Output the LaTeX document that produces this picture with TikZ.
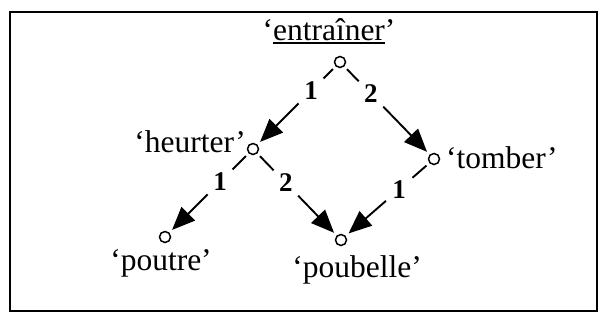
\documentclass[tikz,border=0pt]{standalone}
\usepackage{fontspec}
\setmainfont{Liberation Serif}
\usetikzlibrary{arrows.meta}
\newcommand\myuline[1]{\setbox0\hbox{#1}\rlap{\rule[-3.5pt]{\wd0}{1.5pt}}\box0}
\begin{document}
\begin{tikzpicture}[x=1pt,y=-1pt,
  vert/.style={circle,draw,line width=1.5pt,minimum size=11pt,inner sep=0pt,outer sep=4.5pt},
  word/.style={font=\fontsize{31.5}{31.5}\selectfont,inner sep=0pt},
  num/.style={font=\fontsize{27}{27}\selectfont\bfseries,circle,fill=white,inner sep=0pt,minimum size=35pt},
  link/.style={line width=1.9pt,-{Triangle[length=23pt,width=19pt]}}]
\useasboundingbox (0,0) rectangle (606,324);
\draw[line width=2.4pt] (10,12) rectangle (597,311);
% vertices
\node[vert] (e) at (340,62) {};
\node[vert] (h) at (253,149) {};
\node[vert] (t) at (434,159) {};
\node[vert] (pt) at (165,237) {};
\node[vert] (pb) at (341,240) {};
% words
\node[word,anchor=base] (el) at (329,40) {‘\myuline{entraîner}’};
\node[word,anchor=base east] (hl) at (246,152) {‘heurter’};
\node[word,anchor=base west] (tl) at (446,168) {‘tomber’};
\node[word,anchor=base] (ptl) at (161,270) {‘poutre’};
\node[word,anchor=base] (pbl) at (357,277) {‘poubelle’};
% edges
\draw[link] (e) -- node[num,pos=0.30] (l1) {1} (h);
\draw[link] (e) -- node[num,pos=0.30] (l2) {2} (t);
\draw[link] (h) -- node[num,pos=0.35] (l3) {1} (pt);
\draw[link] (h) -- node[num,pos=0.35] (l4) {2} (pb);
\draw[link] (t) -- node[num,pos=0.35] (l5) {1} (pb);
\end{tikzpicture}
\end{document}
